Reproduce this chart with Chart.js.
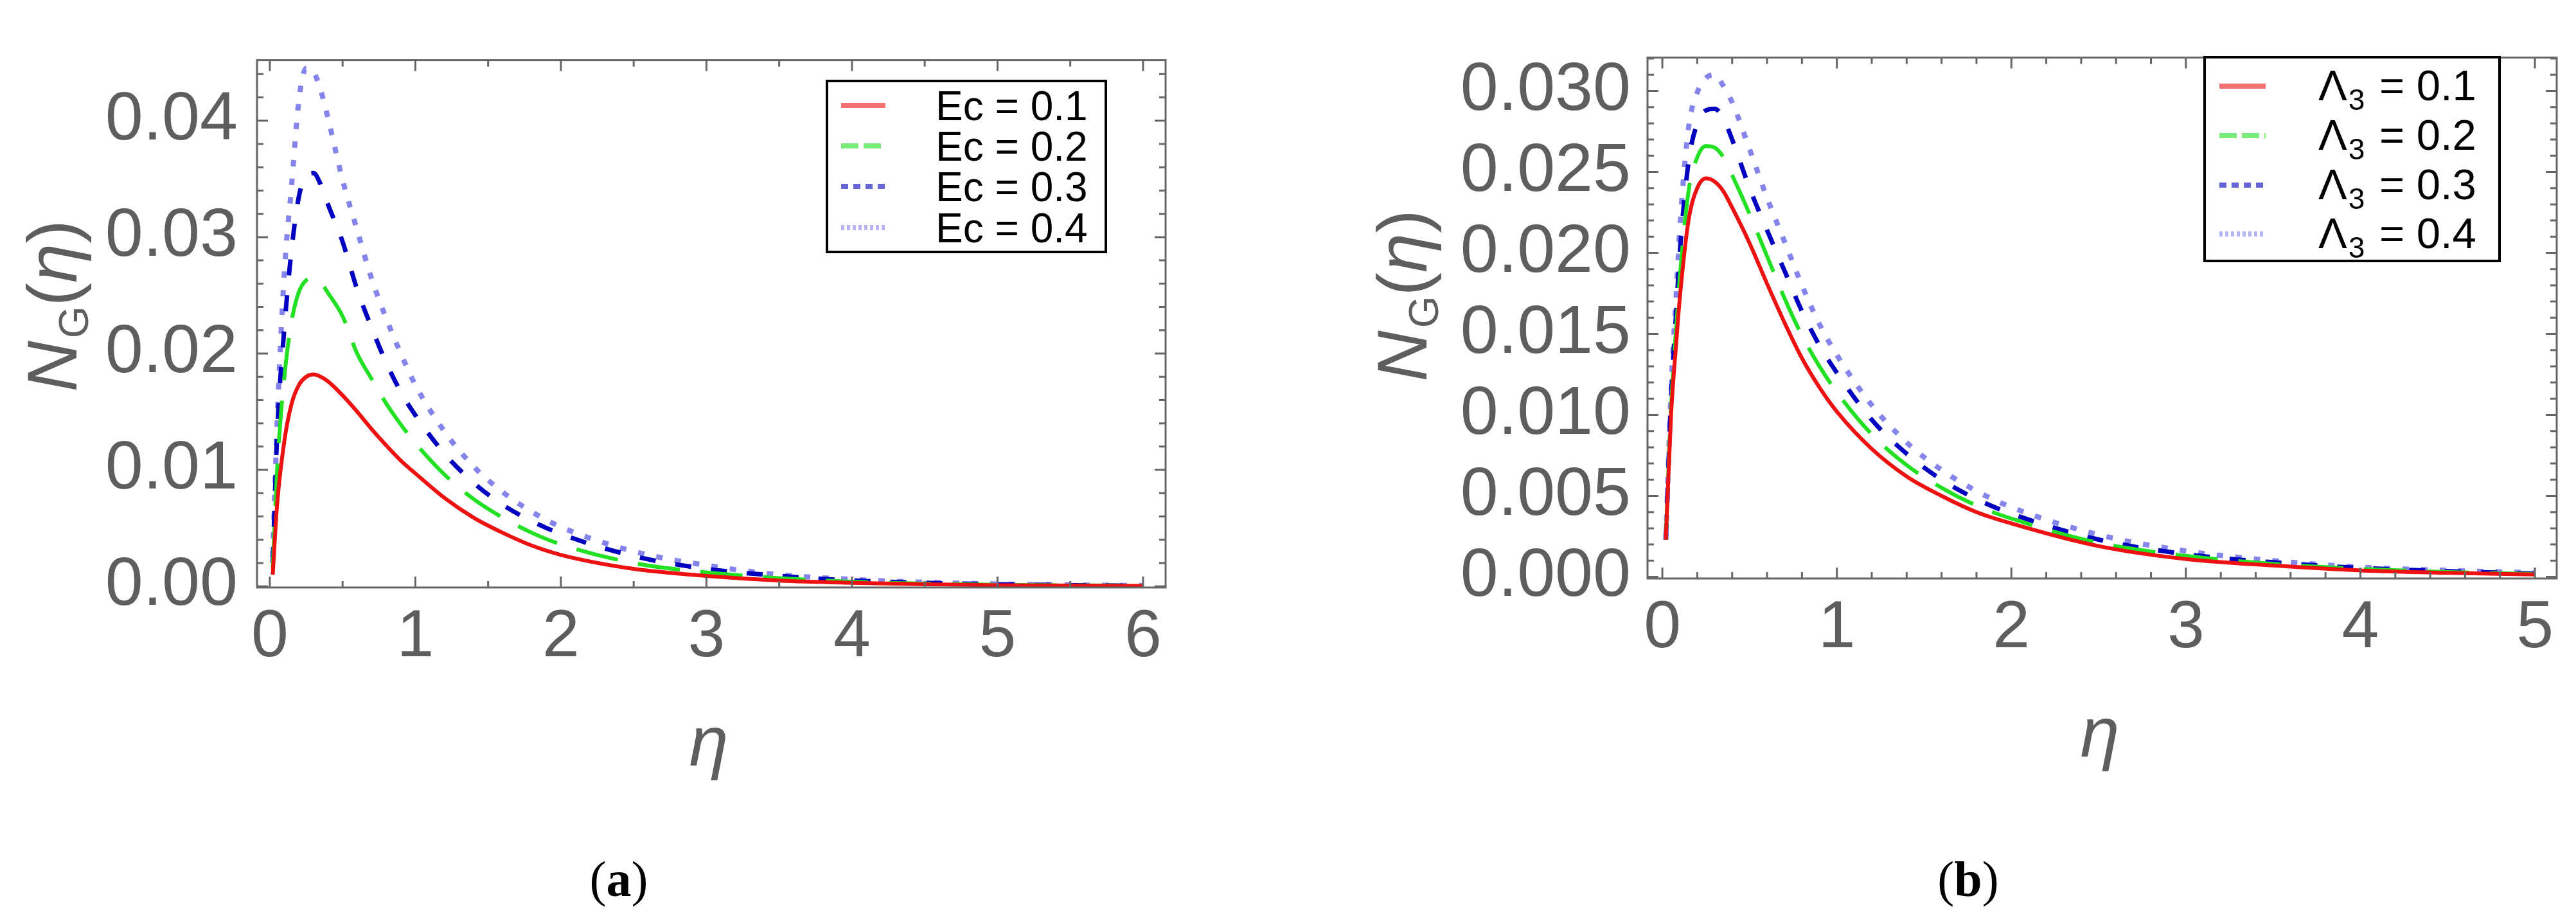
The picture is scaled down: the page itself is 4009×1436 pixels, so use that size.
<!DOCTYPE html>
<html>
<head>
<meta charset="utf-8">
<script src="https://cdn.jsdelivr.net/npm/chart.js@4.4.0/dist/chart.umd.min.js"></script>
<style>
  body { margin: 0; background: #fff; }
  #wrap { position: relative; width: 4009px; height: 1436px; background: #fff; }
  canvas { position: absolute; top: 0; }
</style>
</head>
<body>
<div id="wrap">
  <canvas id="chartA" width="2000" height="1436" style="left:0px"></canvas>
  <canvas id="chartB" width="2009" height="1436" style="left:2000px"></canvas>
</div>
<script>

// data (a) : Ec

const etaA = [0.02, 0.05, 0.1, 0.15, 0.2, 0.25, 0.3, 0.35, 0.4, 0.5, 0.6, 0.7, 0.8, 0.9, 1.0, 1.2, 1.4, 1.6, 1.8, 2.0, 2.5, 3.0, 3.5, 4.0, 4.5, 5.0, 5.5, 6.0];
const ec01 = [0.0010, 0.0070, 0.0125, 0.0157, 0.0173, 0.0180, 0.0182, 0.0180, 0.0176, 0.0164, 0.0150, 0.0135, 0.0121, 0.0108, 0.0097, 0.0076, 0.0059, 0.0046, 0.0035, 0.0027, 0.0015, 0.0009, 0.0005, 0.0003, 0.00017, 0.0001, 0.00006, 0.00004];
const ec02 = [0.0015, 0.0100, 0.0180, 0.0228, 0.0253, 0.0263, 0.0265, 0.0261, 0.0252, 0.0232, 0.0200, 0.0178, 0.0157, 0.0139, 0.0123, 0.0096, 0.0075, 0.0059, 0.0046, 0.0036, 0.0020, 0.0012, 0.0007, 0.0004, 0.00023, 0.00013, 0.00008, 0.00005];
const ec03 = [0.0020, 0.0130, 0.0222, 0.0290, 0.0335, 0.0353, 0.0355, 0.0345, 0.0328, 0.0296, 0.0255, 0.0222, 0.0192, 0.0167, 0.0147, 0.0114, 0.0089, 0.0070, 0.0056, 0.0045, 0.0026, 0.0015, 0.0009, 0.0005, 0.0003, 0.00017, 0.0001, 0.00006];
const ec04 = [0.0025, 0.0140, 0.0270, 0.0345, 0.0418, 0.0445, 0.0442, 0.0426, 0.0402, 0.0349, 0.0306, 0.0264, 0.0230, 0.0200, 0.0173, 0.0133, 0.0103, 0.0081, 0.0064, 0.0051, 0.0030, 0.0018, 0.0010, 0.0006, 0.00035, 0.0002, 0.00012, 0.00007];
const labelsA = ['Ec = 0.1', 'Ec = 0.2', 'Ec = 0.3', 'Ec = 0.4'];
const xTicksA = [0, 1, 2, 3, 4, 5, 6];
const yTicksA = [0, 0.01, 0.02, 0.03, 0.04];

// data (b) : lambda 3

const etaB = [0.02, 0.05, 0.08, 0.1, 0.15, 0.2, 0.25, 0.3, 0.35, 0.4, 0.5, 0.6, 0.7, 0.8, 0.9, 1.0, 1.2, 1.4, 1.6, 1.8, 2.0, 2.5, 3.0, 3.5, 4.0, 4.5, 5.0];
const lam01 = [0.0023, 0.0100, 0.0145, 0.0172, 0.0220, 0.0240, 0.0246, 0.0244, 0.0238, 0.0228, 0.0206, 0.0181, 0.0157, 0.0135, 0.0117, 0.0102, 0.0079, 0.0062, 0.0050, 0.0040, 0.0033, 0.0019, 0.0011, 0.0007, 0.0004, 0.00025, 0.00015];
const lam02 = [0.0023, 0.0105, 0.0155, 0.0185, 0.0238, 0.0259, 0.0266, 0.0265, 0.0259, 0.0248, 0.0224, 0.0198, 0.0172, 0.0149, 0.0130, 0.0114, 0.0088, 0.0069, 0.0055, 0.0044, 0.0036, 0.0021, 0.0013, 0.0008, 0.0005, 0.0003, 0.00018];
const lam03 = [0.0023, 0.0110, 0.0165, 0.0200, 0.0256, 0.0280, 0.0288, 0.0289, 0.0283, 0.0270, 0.0240, 0.0214, 0.0189, 0.0164, 0.0143, 0.0126, 0.0097, 0.0076, 0.0060, 0.0048, 0.0039, 0.0023, 0.0014, 0.0009, 0.00055, 0.00035, 0.0002];
const lam04 = [0.0023, 0.0115, 0.0175, 0.0215, 0.0277, 0.0299, 0.0308, 0.0310, 0.0303, 0.0293, 0.0264, 0.0234, 0.0207, 0.0180, 0.0156, 0.0137, 0.0106, 0.0083, 0.0066, 0.0053, 0.0043, 0.0026, 0.0016, 0.0010, 0.0006, 0.0004, 0.00025];
const valuesB = ['0.1', '0.2', '0.3', '0.4'];
const xTicksB = [0, 1, 2, 3, 4, 5];
const yTicksB = [0, 0.005, 0.01, 0.015, 0.02, 0.025, 0.03];

// line styles (red solid, green long dash, blue dash, light blue dots)

const styles = [
  { color: '#ee1111', width: 6, dash: [], key: [] },
  { color: '#22e022', width: 6, dash: [66, 32], key: [27, 8] },
  { color: '#0000c0', width: 7, dash: [25, 31], key: [11, 8] },
  { color: 'rgba(110,110,232,0.85)', width: 8, dash: [10, 19], key: [5, 4] }
];

const grey = '#5e5e5e';
const frameGrey = '#666666';
const sans = '"Liberation Sans", Arial, sans-serif';

function makeSets(xs, series) {
  return series.map((s, i) => ({
    data: xs.map((x, j) => ({ x: x, y: s[j] })),
    borderColor: styles[i].color,
    borderWidth: styles[i].width,
    borderDash: styles[i].dash,
    borderCapStyle: 'butt',
    pointRadius: 0,
    fill: false,
    cubicInterpolationMode: 'monotone'
  }));
}

function minors(min, max, step, major) {
  let out = [];
  for (let k = Math.ceil(min / step - 1e-9); k * step <= max + 1e-12; k++) {
    let v = k * step;
    let r = v / major;
    if (Math.abs(r - Math.round(r)) > 1e-6) out.push(v);
  }
  return out;
}

// frame, inward ticks on all four sides, titles, legend

function decor(cfg) {
  return {
    id: 'decor',
    afterDraw(chart) {
      const ctx = chart.ctx;
      const { left, right, top, bottom } = chart.chartArea;
      const sx = chart.scales.x, sy = chart.scales.y;

      ctx.save();
      ctx.strokeStyle = frameGrey;
      ctx.lineWidth = 3;
      ctx.setLineDash([]);

      const xMaj = cfg.xTicks, xMin = minors(sx.min, sx.max, cfg.xMinor, 1);
      const yMaj = cfg.yTicks, yMin = minors(sy.min, sy.max, cfg.yMinor, cfg.yMajor);

      ctx.beginPath();
      xMaj.forEach(v => {
        let p = sx.getPixelForValue(v);
        ctx.moveTo(p, bottom); ctx.lineTo(p, bottom - 17);
        ctx.moveTo(p, top); ctx.lineTo(p, top + 17);
      });
      xMin.forEach(v => {
        let p = sx.getPixelForValue(v);
        ctx.moveTo(p, bottom); ctx.lineTo(p, bottom - 10);
        ctx.moveTo(p, top); ctx.lineTo(p, top + 10);
      });
      yMaj.forEach(v => {
        let p = sy.getPixelForValue(v);
        ctx.moveTo(left, p); ctx.lineTo(left + 17, p);
        ctx.moveTo(right, p); ctx.lineTo(right - 17, p);
      });
      yMin.forEach(v => {
        let p = sy.getPixelForValue(v);
        ctx.moveTo(left, p); ctx.lineTo(left + 10, p);
        ctx.moveTo(right, p); ctx.lineTo(right - 10, p);
      });
      ctx.stroke();
      ctx.strokeRect(left, top, right - left, bottom - top);

      // y title N_G(eta), rotated
      ctx.fillStyle = grey;
      ctx.save();
      ctx.translate(cfg.yTitle[0], cfg.yTitle[1]);
      ctx.rotate(-Math.PI / 2);
      const parts = [
        { t: 'N', f: 'italic 110px ' + sans, dy: 0 },
        { t: 'G', f: '64px ' + sans, dy: 18 },
        { t: '(', f: '110px ' + sans, dy: 0 },
        { t: 'η', f: 'italic 110px ' + sans, dy: 0 },
        { t: ')', f: '110px ' + sans, dy: 0 }
      ];
      let total = 0;
      parts.forEach(p => { ctx.font = p.f; p.w = ctx.measureText(p.t).width; total += p.w; });
      let cx = -total / 2;
      ctx.textBaseline = 'alphabetic';
      ctx.textAlign = 'left';
      parts.forEach(p => { ctx.font = p.f; ctx.fillText(p.t, cx, 39 + p.dy); cx += p.w + (p.t === 'N' ? 4 : 0); });
      ctx.restore();

      // x title eta
      ctx.font = 'italic 110px ' + sans;
      ctx.textAlign = 'center';
      ctx.textBaseline = 'middle';
      ctx.fillText('η', cfg.xTitle[0], cfg.xTitle[1]);

      // caption (a) / (b)
      ctx.fillStyle = '#000';
      ctx.textBaseline = 'middle';
      ctx.textAlign = 'left';
      ctx.font = '78px "Liberation Serif", serif';
      let pw = ctx.measureText('(').width;
      ctx.font = 'bold 78px "Liberation Serif", serif';
      let lw = ctx.measureText(cfg.caption).width;
      let x0 = cfg.capPos[0] - (2 * pw + lw) / 2;
      ctx.font = '78px "Liberation Serif", serif';
      ctx.fillText('(', x0, cfg.capPos[1]);
      ctx.font = 'bold 78px "Liberation Serif", serif';
      ctx.fillText(cfg.caption, x0 + pw, cfg.capPos[1]);
      ctx.font = '78px "Liberation Serif", serif';
      ctx.fillText(')', x0 + pw + lw, cfg.capPos[1]);

      // legend box
      const lg = cfg.legend;
      ctx.fillStyle = '#fff';
      ctx.fillRect(lg.x1, lg.y1, lg.x2 - lg.x1, lg.y2 - lg.y1);
      ctx.strokeStyle = '#000';
      ctx.lineWidth = 4;
      ctx.strokeRect(lg.x1, lg.y1, lg.x2 - lg.x1, lg.y2 - lg.y1);
      lg.rows.forEach((ry, i) => {
        ctx.save();
        ctx.globalAlpha = 0.6;
        ctx.strokeStyle = styles[i].color;
        ctx.lineWidth = 8;
        ctx.setLineDash(styles[i].key);
        ctx.beginPath();
        ctx.moveTo(lg.s1, ry); ctx.lineTo(lg.s2, ry);
        ctx.stroke();
        ctx.restore();
        ctx.fillStyle = '#000';
        ctx.textAlign = 'left';
        ctx.textBaseline = 'alphabetic';
        lg.drawText(ctx, i, lg.tx, ry);
      });
      ctx.restore();
    }
  };
}

function chartOptions(o) {
  return {
    responsive: false,
    animation: false,
    events: [],
    layout: { padding: o.pad },
    plugins: { legend: { display: false }, tooltip: { enabled: false } },
    scales: {
      x: {
        type: 'linear', min: o.xr[0], max: o.xr[1],
        afterFit(s) { s.height = o.xh; },
        afterBuildTicks(s) { s.ticks = o.xTicks.map(v => ({ value: v })); },
        grid: { display: false, drawTicks: false },
        border: { display: false },
        ticks: { padding: 16, color: grey, font: { family: sans, size: 104 }, maxRotation: 0, autoSkip: false, callback: v => String(v) }
      },
      y: {
        type: 'linear', min: o.yr[0], max: o.yr[1],
        afterFit(s) { s.width = o.yw; },
        afterBuildTicks(s) { s.ticks = o.yTicks.map(v => ({ value: v })); },
        grid: { display: false, drawTicks: false },
        border: { display: false },
        ticks: { padding: o.yPad, color: grey, font: { family: sans, size: 106 }, autoSkip: false, callback: v => v.toFixed(o.dec) }
      }
    }
  };
}

// chart (a)

const chartA = new Chart(document.getElementById('chartA'), {
  type: 'line',
  data: { datasets: makeSets(etaA, [ec01, ec02, ec03, ec04]) },
  options: chartOptions({
    pad: { left: 0, top: 41, right: 186, bottom: 0 },
    xr: [-0.088, 6.155], yr: [-0.0001, 0.0452],
    xh: 522, yw: 400, yPad: 30, dec: 2,
    xTicks: xTicksA, yTicks: yTicksA
  }),
  plugins: [decor({
    xTicks: xTicksA, xMinor: 0.5,
    yTicks: yTicksA, yMinor: 0.002, yMajor: 0.01,
    yTitle: [80, 478], xTitle: [1103, 1160],
    caption: 'a', capPos: [963, 1374],
    legend: {
      x1: 1287, y1: 126, x2: 1721, y2: 392,
      rows: [164, 227, 290, 354], s1: 1309, s2: 1378, tx: 1456,
      drawText(ctx, i, x, y) {
        ctx.font = '64px ' + sans;
        ctx.fillText(labelsA[i], x, y + 23);
      }
    }
  })]
});

// chart (b)

const chartB = new Chart(document.getElementById('chartB'), {
  type: 'line',
  data: { datasets: makeSets(etaB, [lam01, lam02, lam03, lam04]) },
  options: chartOptions({
    pad: { left: 0, top: 26, right: 30, bottom: 0 },
    xr: [-0.085, 5.125], yr: [-0.0001, 0.03206],
    xh: 536, yw: 564, yPad: 26, dec: 3,
    xTicks: xTicksB, yTicks: yTicksB
  }),
  plugins: [decor({
    xTicks: xTicksB, xMinor: 0.2,
    yTicks: yTicksB, yMinor: 0.001, yMajor: 0.005,
    yTitle: [181, 462], xTitle: [1268, 1146],
    caption: 'b', capPos: [1063, 1374],
    legend: {
      x1: 1431, y1: 89, x2: 1890, y2: 406,
      rows: [134, 211, 288, 364], s1: 1454, s2: 1526, tx: 1608,
      drawText(ctx, i, x, y) {
        ctx.font = '67px ' + sans;
        ctx.fillText('Λ', x, y + 22);
        let w = ctx.measureText('Λ').width;
        ctx.font = '46px ' + sans;
        ctx.fillText('3', x + w + 2, y + 37);
        let w3 = ctx.measureText('3').width;
        ctx.font = '67px ' + sans;
        ctx.fillText(' = ' + valuesB[i], x + w + w3 + 6, y + 22);
      }
    }
  })]
});

</script>
</body>
</html>
